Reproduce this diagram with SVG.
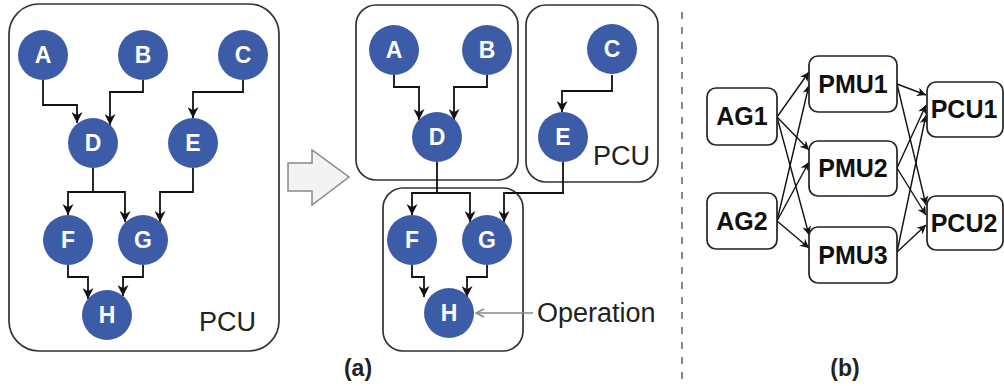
<svg xmlns="http://www.w3.org/2000/svg" width="1004" height="386" viewBox="0 0 1004 386">
<defs>
<marker id="ah" markerUnits="userSpaceOnUse" markerWidth="11" markerHeight="11" viewBox="0 0 10 10" refX="10" refY="5" orient="auto">
<path d="M0,0 L10,5 L0,10 L3,5 Z" fill="#111"/>
</marker>
<marker id="ahs" markerUnits="userSpaceOnUse" markerWidth="10" markerHeight="9" viewBox="0 0 10 10" refX="10" refY="5" orient="auto">
<path d="M0,0 L10,5 L0,10 L3,5 Z" fill="#111"/>
</marker>
<marker id="ahg" markerUnits="userSpaceOnUse" markerWidth="10" markerHeight="10" viewBox="0 0 10 10" refX="9" refY="5" orient="auto">
<path d="M1,1 L9,5 L1,9" fill="none" stroke="#888" stroke-width="1.4"/>
</marker>
</defs>
<style>
.box{fill:none;stroke:#333;stroke-width:1.7}
.op circle{fill:#3D5CA8}
.op text{fill:#fff;font-family:"Liberation Sans",Arial,sans-serif;font-weight:bold;font-size:23px;text-anchor:middle}
.lbl{fill:#222;font-family:"Liberation Sans",Arial,sans-serif;font-size:27px}
.cap{fill:#222;font-family:"Liberation Sans",Arial,sans-serif;font-weight:bold;font-size:23px;text-anchor:middle}
.conn path{fill:none;stroke:#111;stroke-width:1.8;marker-end:url(#ah)}
.rconn path{fill:none;stroke:#111;stroke-width:1.4;marker-end:url(#ahs)}
.unit rect{fill:#fff;stroke:#222;stroke-width:1.7}
.unit text{fill:#111;font-family:"Liberation Sans",Arial,sans-serif;font-weight:bold;font-size:25px;text-anchor:middle}
</style>
<rect width="1004" height="386" fill="#fff"/>

<!-- Left panel -->
<g id="left-pcu"><rect class="box" x="9" y="4" width="270" height="347" rx="30"/><text class="lbl" x="199" y="331">PCU</text></g>
<g id="connectors-left" class="conn">
<path d="M43,80 V105 H77 V123"/>
<path d="M143,80 V92 H110 V125"/>
<path d="M243,80 V92 H193 V118"/>
<path d="M93,168 V192 H68 V215"/>
<path d="M93,192 H125 V222"/>
<path d="M193,168 V192 H160 V222"/>
<path d="M68,265 V277 H88 V299"/>
<path d="M143,265 V277 H123 V296"/>
</g>
<g id="L-A" class="op"><circle cx="43" cy="55" r="25"/><text x="43" y="63">A</text></g>
<g id="L-B" class="op"><circle cx="143" cy="55" r="25"/><text x="143" y="63">B</text></g>
<g id="L-C" class="op"><circle cx="243" cy="55" r="25"/><text x="243" y="63">C</text></g>
<g id="L-D" class="op"><circle cx="93" cy="143" r="25"/><text x="93" y="151">D</text></g>
<g id="L-E" class="op"><circle cx="193" cy="143" r="25"/><text x="193" y="151">E</text></g>
<g id="L-F" class="op"><circle cx="68" cy="240" r="25"/><text x="68" y="248">F</text></g>
<g id="L-G" class="op"><circle cx="143" cy="240" r="25"/><text x="143" y="248">G</text></g>
<g id="L-H" class="op"><circle cx="107" cy="315" r="25"/><text x="107" y="323">H</text></g>

<!-- Transformation arrow -->
<g id="big-arrow"><polygon points="288,163 312,163 312,150 349,177 312,205 312,191 288,191" fill="#F2F3F2" stroke="#888" stroke-width="1.5"/></g>

<!-- Middle panel -->
<g id="M-box1"><rect class="box" x="356" y="5" width="162" height="175" rx="20"/></g>
<g id="M-box2"><rect class="box" x="526" y="5" width="132" height="177" rx="20"/><text class="lbl" x="593" y="165">PCU</text></g>
<g id="M-box3"><rect class="box" x="383" y="188" width="140" height="163" rx="20"/></g>
<g id="connectors-mid" class="conn">
<path d="M394,75 V87 H419 V120"/>
<path d="M487,75 V87 H454 V120"/>
<path d="M612,75 V91 H562 V112"/>
<path d="M437,162 V193 H412 V215"/>
<path d="M437,193 H470 V222"/>
<path d="M563,162 V193 H504 V222"/>
<path d="M412,265 V277 H424 V297"/>
<path d="M487,265 V277 H467 V297"/>
</g>
<g id="M-A" class="op"><circle cx="394" cy="50" r="25"/><text x="394" y="58">A</text></g>
<g id="M-B" class="op"><circle cx="487" cy="50" r="25"/><text x="487" y="58">B</text></g>
<g id="M-C" class="op"><circle cx="612" cy="49" r="25"/><text x="612" y="57">C</text></g>
<g id="M-D" class="op"><circle cx="437" cy="137" r="25"/><text x="437" y="145">D</text></g>
<g id="M-E" class="op"><circle cx="563" cy="137" r="25"/><text x="563" y="145">E</text></g>
<g id="M-F" class="op"><circle cx="412" cy="240" r="25"/><text x="412" y="248">F</text></g>
<g id="M-G" class="op"><circle cx="487" cy="240" r="25"/><text x="487" y="248">G</text></g>
<g id="M-H" class="op"><circle cx="449" cy="313" r="25"/><text x="449" y="321">H</text></g>
<g id="operation-label"><path d="M533,313 H476" fill="none" stroke="#888" stroke-width="1.5" marker-end="url(#ahg)"/><text class="lbl" x="537" y="322">Operation</text></g>
<text class="cap" x="358" y="376">(a)</text>

<!-- Divider -->
<line x1="682" y1="12" x2="682" y2="386" stroke="#888" stroke-width="2" stroke-dasharray="7,8"/>

<!-- Right panel -->
<g id="connectors-right" class="rconn">
<path d="M777,117 L809,72"/>
<path d="M777,117 L809,150"/>
<path d="M777,117 L809,235"/>
<path d="M777,221 L809,85"/>
<path d="M777,221 L809,162"/>
<path d="M777,221 L809,248"/>
<path d="M897,84 L926,95"/>
<path d="M897,84 L926,205"/>
<path d="M897,168 L926,105"/>
<path d="M897,168 L926,215"/>
<path d="M897,252 L926,115"/>
<path d="M897,252 L926,225"/>
</g>
<g id="AG1" class="unit"><rect x="707" y="88" width="70" height="57" rx="9"/><text x="742" y="125">AG1</text></g>
<g id="AG2" class="unit"><rect x="707" y="193" width="70" height="56" rx="9"/><text x="742" y="230">AG2</text></g>
<g id="PMU1" class="unit"><rect x="809" y="56" width="88" height="56" rx="9"/><text x="853" y="93">PMU1</text></g>
<g id="PMU2" class="unit"><rect x="809" y="141" width="88" height="55" rx="9"/><text x="853" y="177">PMU2</text></g>
<g id="PMU3" class="unit"><rect x="809" y="227" width="88" height="56" rx="9"/><text x="853" y="264">PMU3</text></g>
<g id="PCU1" class="unit"><rect x="927" y="82" width="76" height="55" rx="9"/><text x="964" y="118">PCU1</text></g>
<g id="PCU2" class="unit"><rect x="927" y="196" width="76" height="54" rx="9"/><text x="964" y="232">PCU2</text></g>
<text class="cap" x="845" y="376">(b)</text>
</svg>
